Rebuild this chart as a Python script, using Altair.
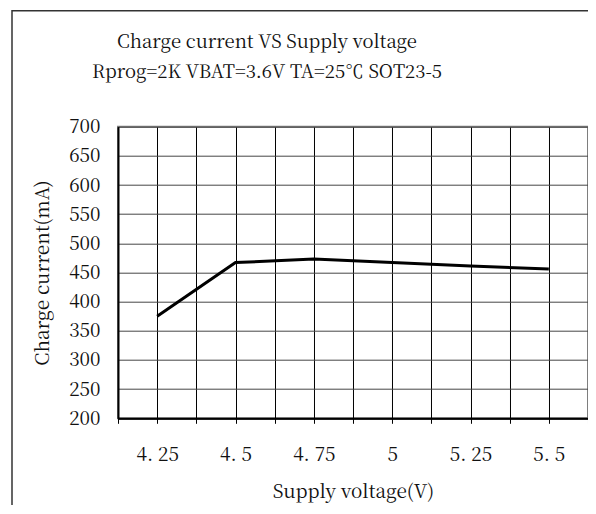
import altair as alt
import pandas as pd

voltage = [4.25, 4.5, 4.75, 5.0, 5.25, 5.5]
current = [375, 467, 473, 467, 461, 456]
title_lines = ["Charge current VS Supply voltage", "Rprog=2K VBAT=3.6V TA=25℃ SOT23-5"]
x_grid = [4.125 + 0.125 * i for i in range(13)]
y_ticks = list(range(200, 701, 50))

FONT = "Noto Serif CJK SC"

W, H = 470, 291.6
df = pd.DataFrame({"v": voltage, "c": current})

x_scale = alt.Scale(domain=[4.125, 5.625], nice=False, zero=False)
y_scale = alt.Scale(domain=[200, 700], nice=False, zero=False)

line = alt.Chart(df).mark_line(color="black", strokeWidth=3).encode(
    x=alt.X("v:Q", scale=x_scale, title="Supply voltage(V)",
            axis=alt.Axis(values=x_grid, grid=True, gridColor="#000", gridWidth=1,
                          gridOpacity=1, domainColor="#000", domainWidth=2,
                          ticks=True, tickColor="#000", tickSize=5, tickWidth=1,
                          labelExpr="abs(datum.value*4 - round(datum.value*4)) < 0.01 ? replace(format(datum.value, ''), '.', '. ') : ''",
                          labelFont=FONT, labelFontSize=19, labelColor="#111",
                          labelBaseline="middle", labelPadding=31, labelFlush=False,
                          labelOverlap=False,
                          titleFont=FONT, titleFontSize=19, titleFontWeight="normal",
                          titleColor="#111", titleY=73, titleBaseline="middle")),
    y=alt.Y("c:Q", scale=y_scale, title="Charge current(mA)",
            axis=alt.Axis(values=y_ticks, grid=True, gridColor="#444", gridWidth=1,
                          gridOpacity=1, domainColor="#000", domainWidth=2,
                          ticks=False, labelPadding=18,
                          labelFont=FONT, labelFontSize=19, labelColor="#111",
                          titleFont=FONT, titleFontSize=19, titleFontWeight="normal",
                          titleColor="#111", titleX=-76, titleBaseline="middle")),
)

frame = alt.Chart(pd.DataFrame({"k": [0]})).mark_rect(
    fill=None, fillOpacity=0, stroke="#333", strokeWidth=1.5
).encode(
    x=alt.value(-106), x2=alt.value(700), y=alt.value(-116), y2=alt.value(700)
)

tdf = pd.DataFrame({"t": title_lines, "ypos": [-85, -55]})
titles = alt.Chart(tdf).mark_text(
    font=FONT, fontSize=18.5, color="#111", baseline="middle", align="center"
).encode(
    text="t:N", x=alt.value(149), y=alt.Y("ypos:Q", scale=None)
)

chart = alt.layer(frame, line, titles).properties(
    width=W, height=H,
    autosize=alt.AutoSizeParams(type="none"),
    padding={"left": 110, "top": 118.7, "right": 0, "bottom": 87},
).configure_view(stroke="#808080", strokeWidth=2)

chart.save("out.html", embed_options={"renderer": "svg", "actions": False})
